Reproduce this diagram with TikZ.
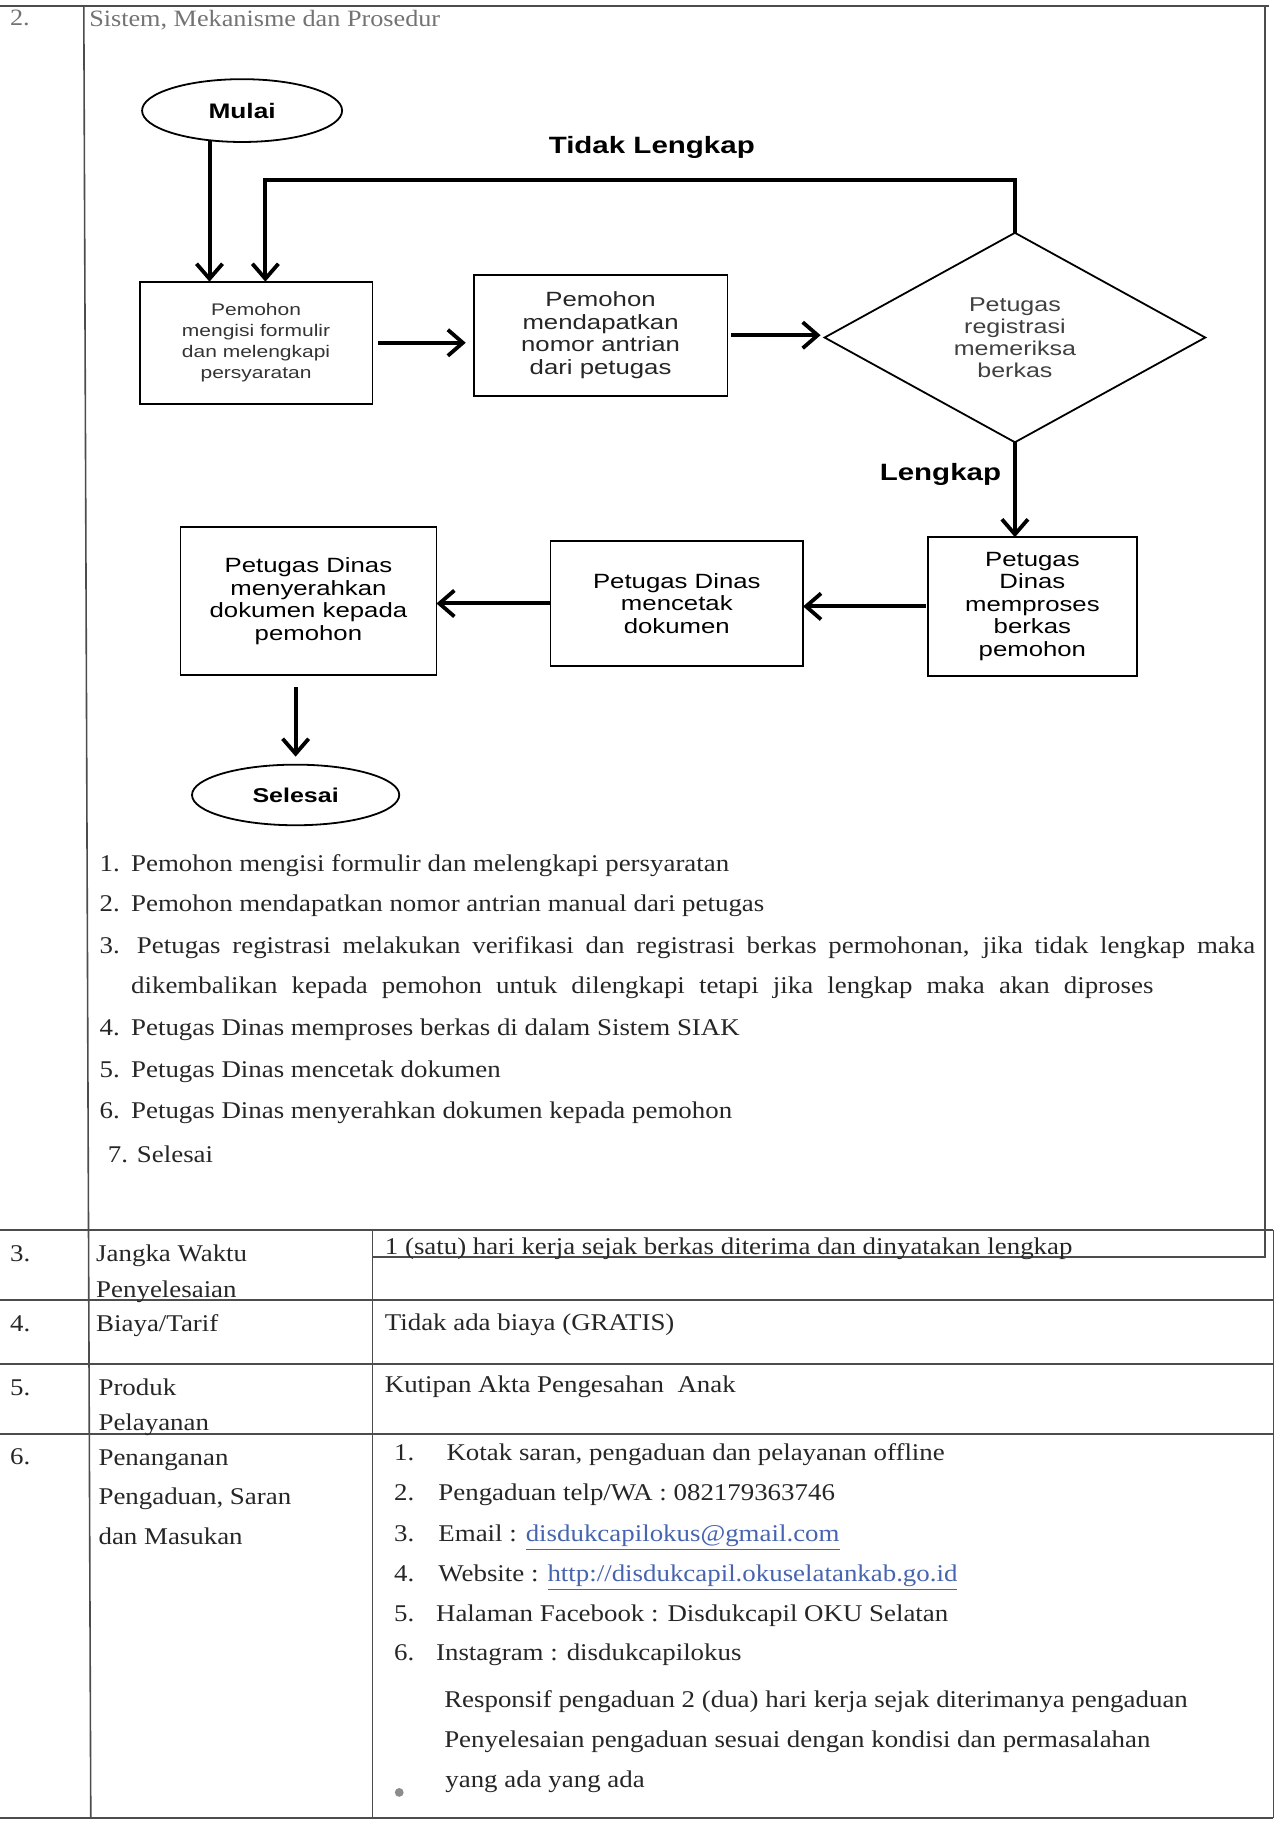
\documentclass[tikz,border=0pt]{standalone}
\usepackage{fontspec}
\setmainfont{Liberation Serif}[FakeStretch=1.12]
\newfontfamily\flowfont{Liberation Sans}[FakeStretch=1.25]
\usetikzlibrary{arrows.meta,shapes.geometric}
\definecolor{linkblue}{RGB}{70,100,175}

\begin{document}
\begin{tikzpicture}[x=0.58185pt,y=-0.58185pt,line width=0.8pt,
  proc/.style={draw,line width=0.9pt,inner sep=0pt,outer sep=0pt,align=center,
    font=\flowfont\fontsize{10.3}{11.3}\selectfont},
  term/.style={draw,ellipse,line width=0.9pt,inner sep=0pt,outer sep=0pt,
    font=\flowfont\bfseries\fontsize{10.5}{12}\selectfont},
  flow/.style={line width=2pt,-{Straight Barb[length=7.5pt,width=13pt,line width=1.9pt]}},
  lbl/.style={font=\flowfont\bfseries\fontsize{11.8}{13}\selectfont},
  cell/.style={anchor=base west,inner sep=0pt,text=black!85,font=\fontsize{12}{14}\selectfont},
  tline/.style={line width=0.8pt,draw=black!70},
  link/.style={text=linkblue}]
\useasboundingbox (0,0) rectangle (1106,1568);
% ---- frame of row 2 ----
\draw[tline] (0,5) -- (1090,5);
\draw[tline] (72,5) -- (78,1562);
\draw[tline] (1087,5) -- (1087,1080) -- (320,1080);
\node[cell,text=black!55,font=\fontsize{11.7}{13}\selectfont] (no2) at (8,22) {2.};
\node[cell,text=black!55,font=\fontsize{11.7}{13}\selectfont] (head) at (76,23) {Sistem, Mekanisme dan Prosedur};
% ---- flowchart ----
\node[term,minimum width=100pt,minimum height=31.4pt] (mulai) at (208,95) {Mulai};
\node[proc,minimum width=116.4pt,minimum height=61.1pt,font=\flowfont\fontsize{8.4}{10.5}\selectfont,text=black!80]
  (isi) at (220,294.5) {Pemohon\\mengisi formulir\\dan melengkapi\\persyaratan};
\node[proc,minimum width=126.8pt,minimum height=60.5pt,text=black!85]
  (antri) at (516,288) {Pemohon\\mendapatkan\\nomor antrian\\dari petugas};
\node[proc,shape=diamond,aspect=1.8,minimum width=190.3pt,minimum height=104.7pt,
  font=\flowfont\fontsize{10}{11}\selectfont,text=black!75]
  (periksa) at (872,290) {Petugas\\registrasi\\memeriksa\\berkas};
\node[proc,minimum width=104.7pt,minimum height=69.2pt] (proses) at (887,521) {Petugas\\Dinas\\memproses\\berkas\\pemohon};
\node[proc,minimum width=126.3pt,minimum height=62.3pt] (cetak) at (581.5,518.5) {Petugas Dinas\\mencetak\\dokumen};
\node[proc,minimum width=128pt,minimum height=73.9pt] (serah) at (265,516.5) {Petugas Dinas\\menyerahkan\\dokumen kepada\\pemohon};
\node[term,minimum width=103.6pt,minimum height=30.3pt,font=\flowfont\bfseries\fontsize{10}{12}\selectfont]
  (selesai) at (254,683) {Selesai};
\node[lbl] (tidak) at (560,127) {Tidak Lengkap};
\node[lbl] (lengkap) at (808,408) {Lengkap};
% ---- connectors ----
\coordinate (inA) at (180,121);
\coordinate (back) at (228,155);
\draw[flow] (inA) -- (inA |- isi.north);
\draw[flow] (periksa.north) |- (back) -- (back |- isi.north);
\draw[flow,shorten <=3pt,shorten >=4pt] (isi.east) -- (isi.east -| antri.west);
\draw[flow,shorten <=2pt,shorten >=2pt] (antri.east) -- (antri.east -| periksa.west);
\draw[flow] (periksa.south) -- (periksa.south |- proses.north);
\draw[flow,shorten <=1pt] (proses.west) -- (proses.west -| cetak.east);
\draw[flow] (cetak.west) -- (cetak.west -| serah.east);
\draw[flow,shorten <=6pt,shorten >=4pt] (selesai.north |- serah.south) -- (selesai.north);
% ---- steps ----
\node[cell] (n1) at (85,749) {1.};
\node[cell] (s1) at (112,749) {Pemohon mengisi formulir dan melengkapi persyaratan};
\node[cell] (n2) at (85,783) {2.};
\node[cell] (s2) at (112,783) {Pemohon mendapatkan nomor antrian manual dari petugas};
\node[cell] (n3) at (85,819) {3.};
\node[cell] (s3) at (117,819) {\makebox[559pt][s]{Petugas registrasi melakukan verifikasi dan registrasi berkas permohonan, jika tidak lengkap maka}};
\node[cell] (s3b) at (112,854) {\makebox[511pt][s]{dikembalikan kepada pemohon untuk dilengkapi tetapi jika lengkap maka akan diproses}};
\node[cell] (n4) at (85,890) {4.};
\node[cell] (s4) at (112,890) {Petugas Dinas memproses berkas di dalam Sistem SIAK};
\node[cell] (n5) at (85,926) {5.};
\node[cell] (s5) at (112,926) {Petugas Dinas mencetak dokumen};
\node[cell] (n6) at (85,961) {6.};
\node[cell] (s6) at (112,961) {Petugas Dinas menyerahkan dokumen kepada pemohon};
\node[cell] (n7) at (92,999) {7.};
\node[cell] (s7) at (117,999) {Selesai};
% ---- rows 3 to 6 ----
\draw[tline] (0,1057) -- (1094,1057);
\draw[tline] (0,1117) -- (1094,1117);
\draw[tline] (0,1172) -- (1094,1172);
\draw[tline] (0,1232) -- (1094,1232);
\draw[tline] (0,1562) -- (1094,1562);
\draw[tline] (320,1057) -- (320,1562);
\draw[tline] (1094,1057) -- (1094,1562);
\node[cell] (r3) at (8,1084) {3.};
\node[cell] (r3a) at (82,1084) {Jangka Waktu};
\node[cell] (r3b) at (82,1115) {Penyelesaian};
\node[cell] (r3c) at (330,1078) {1 (satu) hari kerja sejak berkas diterima dan dinyatakan lengkap};
\node[cell] (r4) at (8,1144) {4.};
\node[cell] (r4a) at (82,1144) {Biaya/Tarif};
\node[cell] (r4c) at (330,1143) {Tidak ada biaya (GRATIS)};
\node[cell] (r5) at (8,1199) {5.};
\node[cell] (r5a) at (84,1199) {Produk};
\node[cell] (r5b) at (84,1229) {Pelayanan};
\node[cell] (r5c) at (330,1196) {Kutipan Akta Pengesahan\ \ Anak};
\node[cell] (r6) at (8,1258) {6.};
\node[cell] (r6a) at (84,1259) {Penanganan};
\node[cell] (r6b) at (84,1293) {Pengaduan, Saran};
\node[cell] (r6c) at (84,1327) {dan Masukan};
\node[cell] (c1) at (338,1255) {1.};
\node[cell] (t1) at (383,1255) {Kotak saran, pengaduan dan pelayanan offline};
\node[cell] (c2) at (338,1289) {2.};
\node[cell] (t2) at (376,1289) {Pengaduan telp/WA : 082179363746};
\node[cell] (c3) at (338,1324) {3.};
\node[cell] (t3) at (376,1324) {Email : \textcolor{linkblue}{\underline{disdukcapilokus@gmail.com}}};
\node[cell] (c4) at (338,1359) {4.};
\node[cell] (t4) at (376,1359) {Website : \textcolor{linkblue}{\underline{http://disdukcapil.okuselatankab.go.id}}};
\node[cell] (c5) at (338,1393) {5.};
\node[cell] (t5) at (374,1393) {Halaman Facebook : Disdukcapil OKU Selatan};
\node[cell] (c6) at (338,1427) {6.};
\node[cell] (t6) at (374,1427) {Instagram : disdukcapilokus};
\node[cell] (t7) at (381,1467) {Responsif pengaduan 2 (dua) hari kerja sejak diterimanya pengaduan};
\node[cell] (t8) at (381,1501) {Penyelesaian pengaduan sesuai dengan kondisi dan permasalahan};
\node[cell] (t9) at (382,1536) {yang ada yang ada};
\fill[black!45] (343,1540) circle (2.2pt);
\end{tikzpicture}
\end{document}
